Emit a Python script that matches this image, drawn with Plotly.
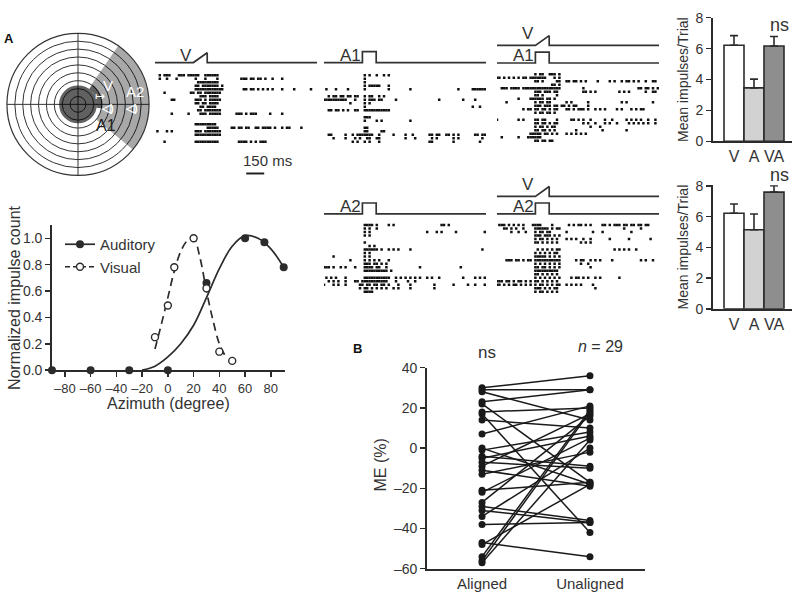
import plotly.graph_objects as go

W, H = 800, 603
def X(px): return px / W
def Y(py): return 1 - py / H

FONT = "Liberation Sans, Arial, sans-serif"
INK = "#2b2b2b"

# ---------------- data ----------------
aud_az = [-90, -60, -30, 0, 30, 60, 75, 90]
aud_resp = [0, 0, 0, 0, 0.66, 1.0, 0.97, 0.78]
vis_az = [-10, 0, 5, 20, 30, 40, 50]
vis_resp = [0.25, 0.49, 0.78, 1.0, 0.62, 0.14, 0.07]
aud_fit_az = [-20, -10, 0, 10, 20, 30, 40, 50, 60, 70, 80, 90]
aud_fit = [0, 0.03, 0.1, 0.2, 0.34, 0.55, 0.77, 0.94, 1.02, 1.0, 0.92, 0.78]
vis_fit_az = [-10, -5, 0, 5, 10, 15, 20, 25, 30, 35, 40, 45]
vis_fit = [0.16, 0.35, 0.55, 0.75, 0.9, 0.98, 1.0, 0.85, 0.6, 0.38, 0.2, 0.1]
tuning_ticks = [-80, -60, -40, -20, 0, 20, 40, 60, 80]

bar_cats = ["V", "A", "VA"]
bar_colors = ["#ffffff", "#d2d2d2", "#8e8e8e"]
bar1_mean = [6.22, 3.46, 6.17]
bar1_err = [0.62, 0.57, 0.62]
bar2_mean = [6.22, 5.15, 7.6]
bar2_err = [0.6, 1.02, 0.42]

me_aligned = [30, 29, 28, 23, 22, 18, 17, 14, 7, 0, -1, -4, -5, -7, -9, -11, -13,
              -21, -22, -27, -29, -31, -34, -38, -47, -48, -54, -56, -57]
me_unaligned = [36, 29, 14, 29, -17, 20, -42, 10, 21, -18, 8, -9, 6, -10, 17, -19, -2,
                -17, 5, 16, -36, -37, 0, -37, -54, -18, 19, 18, 4]
me_groups = ["Aligned", "Unaligned"]

BIN_MS = 20
STIM_MS = 115
T0, T1 = -320, 1030
raster_V = [
    [-14, -12, -11, -10, -6, -5, -4, -2, -1, 0, 1, 2, 5, 6, 7, 8, 9, 10],
    [-14, -11, -7, 1, 5, 10, 20, 21, 22, 24, 25, 27, 28, 30, 33, 37],
    [2, 3, 4, 5, 6, 7, 8, 9, 10],
    [1, 2, 4, 5, 6, 7, 8, 9, 10, 12],
    [1, 2, 3, 4, 5, 6, 7, 8, 9, 10, 11, 12, 21, 22, 24, 25, 27, 29, 31, 33, 37, 42, 49],
    [-12, -1, 0, 2, 3, 5, 6, 7, 8, 9, 10, 11],
    [3, 4, 5, 7, 8, 9, 10],
    [-9, -8, 1, 2, 3, 5, 7, 8, 9, 10, 11],
    [1, 2, 4, 5, 7, 8, 9, 10],
    [3, 4, 6, 7, 8, 9],
    [2, 3, 5, 6, 7, 8, 9, 10, 11],
    [-9, -2, 3, 4, 5, 7, 8, 9, 10, 11, 18, 19, 20, 22, 24, 25, 26, 32, 37],
    [],
    [],
    [1, 2, 3, 4, 5, 6, 7, 8, 9],
    [6, 7, 8, 9, 10, 16, 17, 19, 20, 22, 23, 26, 27, 29, 30, 31, 32, 34, 37, 39, 40, 45],
    [-15, -11, -9, 1, 2, 3, 5, 6, 7, 8, 9, 10, 11],
    [1, 2, 3, 4, 5, 6, 7, 8, 9, 10, 11],
    [],
    [-12, 1, 2, 3, 4, 5, 6, 7, 8, 9, 10, 19, 20, 21, 22, 24, 26, 28, 29, 30],
]
raster_A1 = [
    [1, 3, 6, 9, 11],
    [1],
    [1],
    [1, 3, 4, 5, 6, 7, 11],
    [-15, -11, -6, 1, 11, 20, 40, 46, 47, 48, 49, 50, 51],
    [],
    [-14, -12, -11, -9, -8, -6, -5, -3, -2, 1, 3, 4, 7, 9],
    [-16, -15, -14, -13, -12, -11, -10, -9, -8, -7, -3, 1, 3, 4, 5, 7, 8, 14, 32, 42, 47],
    [-5, 1, 3],
    [1, 46, 49],
    [-14, -13, -11, -10, -8, -6, -3, -2, 1, 2, 3, 4, 5, 6, 7, 8, 9, 10, 11],
    [],
    [1, 2, 3],
    [1, 6, 8, 20],
    [],
    [1, 2],
    [1, 2, 8, 9],
    [-14, -13, -7, -4, -2, -1, 0, 1, 2, 3, 4, 7, 13, 18, 21, 28, 29, 31, 32, 35, 36, 38, 40, 47, 48, 50, 51],
    [-12, -7, -3, -1, 2, 3, 6, 7, 18, 22, 29, 31, 38, 40, 50],
    [-4, -2, 1, 3, 7, 28, 29, 38, 49],
]
raster_VA1 = [
    [0, 2, 3, 6, 7, 8, 10],
    [-16, -15, -13, -11, -9, -7, -5, -4, -2, -1, 0, 1, 2, 3, 4, 8, 10],
    [0, 1, 3, 9, 10, 13, 14, 16, 17, 19, 21, 26, 31, 33, 36, 38, 39, 41, 43, 46, 49, 50],
    [7, 8, 10],
    [-14, -13, -12, -10, -9, -8, -7, -5, -4, -3, -2, -1, 0, 1, 2, 3, 4, 5, 6, 7, 8, 9, 10, 20, 43, 44, 46, 47, 49, 51],
    [0, 1, 2, 4, 5, 6, 8, 9, 20, 21, 23, 25, 35, 37, 39, 46, 49, 50],
    [0, 1, 3, 9],
    [-7, -2, -1, 0, 1, 2, 3, 5, 6, 8],
    [-12, 0, 2, 3, 5, 6, 13, 15, 22, 36, 38, 49],
    [0, 1, 2, 4, 5, 6, 8, 9, 11, 12, 14, 16, 17, 22],
    [-5, -3, -2, 0, 1, 3, 4, 6, 8, 9, 13, 14, 16, 18, 19, 20, 22, 25, 27, 29, 34, 36, 40, 42, 44, 45],
    [0, 2, 3, 5, 6, 8],
    [],
    [-16, -7, -5, 0, 1, 3, 4, 9, 15, 16, 18, 20, 23, 29, 32, 38, 40, 42, 44, 47, 50],
    [0, 1, 3, 4, 6, 8, 9, 20, 22, 25, 29, 31, 34, 39, 41, 43, 45, 47, 50],
    [0, 2, 3, 5, 7, 8, 23, 27],
    [0, 1, 3, 4, 6, 8, 17, 28, 38],
    [-2, -1, 0, 1, 2, 4, 5, 7, 9, 13, 15, 17, 19, 21],
    [-14, -7, -3, -2, -1, 0, 1, 2],
    [0, 1, 3, 4, 6, 7],
]
raster_A2 = [
    [1, 2, 3, 4, 6, 11, 13, 33, 34, 36],
    [1, 3, 6],
    [1, 3, 27, 31, 33, 39, 51],
    [1, 3],
    [],
    [1],
    [3, 5],
    [1, 2, 3, 4, 5, 6, 8, 11, 13, 15, 20, 50],
    [1, 3],
    [-12, 1, 3],
    [-5, 1, 3, 5, 7, 11],
    [1, 2, 3, 5, 6, 8, 10],
    [-16, -15, -14, -12, -9, -7, -3, 1, 2, 3, 4, 6, 7, 10, 24, 41],
    [1, 2, 3, 4, 5, 6, 7, 8, 9, 10, 12],
    [],
    [-15, -13, -11, -7, 1, 2, 3, 4, 5, 6, 7, 8, 9, 10, 11, 14, 16, 18, 20, 22, 24, 27, 29, 32, 42, 47, 49, 51],
    [-14, -12, -10, -7, -3, -2, 0, 1, 2, 3, 4, 5, 6, 7, 8, 9, 10, 14, 19, 22],
    [-16, -12, -10, -7, -1, 0, 2, 3, 5, 6, 8, 9, 11, 15, 20, 30, 38, 44, 47, 51],
    [-1, 1, 2, 4, 6, 8, 10, 13, 15, 20, 30],
    [1, 2, 3, 4],
]
raster_VA2 = [
    [-15, -14, -13, -11, -9, -7, -5, -1, 0, 1, 2, 7, 14, 16, 18, 19, 21, 23, 28, 29, 31, 33, 34, 35, 37, 38, 40, 41, 43, 44, 46, 47],
    [-13, -12, -10, -8, -5, 0, 1, 2, 3, 4, 5, 7, 9, 10, 37, 44],
    [-10, -7, -4, 0, 2, 3, 5, 6, 13, 24, 28, 40],
    [0, 1, 2, 4, 5, 6, 8, 10],
    [0, 2, 3, 5, 7, 9, 13, 15, 17, 20, 23, 31, 39, 48],
    [0, 1, 3, 5, 7, 9, 19, 21, 23],
    [],
    [1, 3, 5, 7, 9, 10, 33, 35, 37, 39, 42],
    [0, 2, 4, 6, 8, 9],
    [0, 1, 2, 3, 4, 6, 8, 10],
    [-12, -11, -10, -8, -7, -5, -3, -2, 0, 1, 2, 3, 4, 5, 6, 7, 8, 9, 10, 17, 19, 20, 23, 25, 27, 32, 44, 46, 49],
    [0, 2, 4, 6, 8, 10, 19, 22],
    [0, 1, 3, 4, 6, 8, 10, 23],
    [0, 1, 2, 3, 4, 5, 6, 7, 8, 9],
    [0, 1, 3, 5, 7, 9],
    [0, 2, 4, 6, 8, 10, 15, 17, 18, 20, 22, 25, 27, 35],
    [-16, -15, -14, -12, -11, -9, -7, -6, -4, -2, 0, 1, 3, 5, 7, 9],
    [-16, -15, -13, -11, -9, -8, -6, -4, -2, 0, 2, 3, 5, 7, 9, 10, 13, 15, 17, 19, 24],
    [0, 1, 2, 4, 6, 8, 9, 25],
    [0, 2, 3, 5, 7, 9],
]

fig = go.Figure()

# ---------------- polar diagram (A) ----------------
fig.add_trace(go.Barpolar(r=[6], base=[3], theta=[8], width=[95],
                          marker=dict(color="rgba(0,0,0,0.34)", line=dict(width=0)),
                          subplot="polar", hoverinfo="skip", showlegend=False))
fig.add_trace(go.Barpolar(r=[2.4], base=[0], theta=[0], width=[360],
                          marker=dict(color="rgba(0,0,0,0.62)", line=dict(width=0)),
                          subplot="polar", hoverinfo="skip", showlegend=False))
fig.add_trace(go.Barpolar(r=[0.7], base=[2.4], theta=[22], width=[64],
                          marker=dict(color="rgba(0,0,0,0.62)", line=dict(width=0)),
                          subplot="polar", hoverinfo="skip", showlegend=False))

# ---------------- rasters ----------------
def raster_xy(trials):
    xs, ys = [], []
    for k, row in enumerate(trials):
        for b in row:
            xs.append(b * BIN_MS)
            ys.append(k)
    return xs, ys

def ramp_xy(base, h):
    return [T0, 0, STIM_MS, STIM_MS, T1], [base, base, base - h, base, base]

def pulse_xy(base, h):
    return [T0, 0, 0, STIM_MS, STIM_MS, T1], [base, base, base - h, base - h, base, base]

rasters = [
    (raster_V, "x2", "y2", [("V", "ramp", -3.6)]),
    (raster_A1, "x3", "y3", [("A1", "pulse", -3.6)]),
    (raster_VA1, "x4", "y4", [("V", "ramp", -8.2), ("A1", "pulse", -3.2)]),
    (raster_A2, "x5", "y5", [("A2", "pulse", -3.2)]),
    (raster_VA2, "x6", "y6", [("V", "ramp", -8.2), ("A2", "pulse", -3.2)]),
]
stim_labels = []
for trials, xa, ya, stims in rasters:
    xs, ys = raster_xy(trials)
    fig.add_trace(go.Scatter(x=xs, y=ys, mode="markers", xaxis=xa, yaxis=ya,
                             marker=dict(symbol="square", size=2.5, color="#111111", line=dict(width=0)),
                             hoverinfo="skip", showlegend=False))
    for name, kind, base in stims:
        if kind == "ramp":
            sx, sy = ramp_xy(base, 2.8)
        else:
            sx, sy = pulse_xy(base, 3.1)
        fig.add_trace(go.Scatter(x=sx, y=sy, mode="lines", xaxis=xa, yaxis=ya,
                                 line=dict(color="#333333", width=1.7),
                                 hoverinfo="skip", showlegend=False))
        stacked = len(stims) > 1 and kind == "ramp"
        stim_labels.append(dict(x=0, y=base, xref=xa, yref=ya, text=name, showarrow=False,
                                xanchor="right", yanchor="bottom", xshift=1,
                                yshift=0 if stacked else -4,
                                font=dict(family=FONT, size=17, color="#333333")))

# ---------------- tuning curves ----------------
fig.add_trace(go.Scatter(x=aud_fit_az, y=aud_fit, mode="lines", xaxis="x", yaxis="y",
                         line=dict(color=INK, width=1.7, shape="spline"),
                         hoverinfo="skip", showlegend=False))
fig.add_trace(go.Scatter(x=vis_fit_az, y=vis_fit, mode="lines", xaxis="x", yaxis="y",
                         line=dict(color=INK, width=1.7, shape="spline", dash="8px,5px"),
                         hoverinfo="skip", showlegend=False))
fig.add_trace(go.Scatter(x=aud_az, y=aud_resp, mode="markers", xaxis="x", yaxis="y",
                         marker=dict(color=INK, size=8), cliponaxis=False, showlegend=False))
fig.add_trace(go.Scatter(x=vis_az, y=vis_resp, mode="markers", xaxis="x", yaxis="y",
                         marker=dict(color="white", size=7, line=dict(color=INK, width=1.4)),
                         cliponaxis=False, showlegend=False))
fig.add_trace(go.Scatter(x=[None], y=[None], mode="lines+markers", name="Auditory", xaxis="x", yaxis="y",
                         marker=dict(color=INK, size=8), line=dict(color=INK, width=1.7)))
fig.add_trace(go.Scatter(x=[None], y=[None], mode="lines+markers", name="Visual", xaxis="x", yaxis="y",
                         marker=dict(color="white", size=7, line=dict(color=INK, width=1.4)),
                         line=dict(color=INK, width=1.7, dash="5px,3px")))

# ---------------- bar charts ----------------
for mean, err, xa, ya in [(bar1_mean, bar1_err, "x7", "y7"), (bar2_mean, bar2_err, "x8", "y8")]:
    fig.add_trace(go.Bar(x=[0, 1, 2], y=mean, width=1, xaxis=xa, yaxis=ya,
                         marker=dict(color=bar_colors, line=dict(color=INK, width=1.6)),
                         error_y=dict(type="data", array=err, arrayminus=[0, 0, 0], symmetric=False,
                                      color=INK, thickness=1.6, width=4),
                         hoverinfo="skip", showlegend=False))

# ---------------- panel B ----------------
bx, by = [], []
for a, u in zip(me_aligned, me_unaligned):
    bx += [0, 1, None]
    by += [a, u, None]
fig.add_trace(go.Scatter(x=bx, y=by, mode="lines+markers", xaxis="x9", yaxis="y9",
                         line=dict(color="#1a1a1a", width=1.5),
                         marker=dict(color="#1a1a1a", size=7), cliponaxis=False,
                         hoverinfo="skip", showlegend=False))

# ---------------- layout ----------------
def hidden(domain, rng):
    return dict(domain=domain, range=rng, visible=False, fixedrange=True)

tick_font = dict(family=FONT, size=14, color="#333333")
axline = dict(showline=True, linecolor=INK, linewidth=1.8, ticks="outside", tickcolor=INK,
              tickwidth=1.5, ticklen=5, showgrid=False, zeroline=False, tickfont=tick_font)

RY = [20, -12]
cat_font = dict(family=FONT, size=16, color="#333333")
layout = dict(
    width=W, height=H, margin=dict(l=0, r=0, t=0, b=0),
    paper_bgcolor="white", plot_bgcolor="rgba(0,0,0,0)",
    font=dict(family=FONT, color="#333333"),
    showlegend=True,
    legend=dict(x=X(60), y=Y(226), xanchor="left", yanchor="top", bgcolor="rgba(0,0,0,0)",
                font=dict(family=FONT, size=15, color="#333333"), itemwidth=30, tracegroupgap=0),
    polar=dict(domain=dict(x=[X(5), X(151)], y=[Y(172), Y(26)]), bgcolor="white",
               radialaxis=dict(range=[0, 9], tickvals=[1, 2, 3, 4, 5, 6, 7, 8], showticklabels=False,
                               ticks="", showline=False, gridcolor="#333333", gridwidth=1),
               angularaxis=dict(tickvals=[0, 90, 180, 270], showticklabels=False, ticks="",
                                gridcolor="#333333", gridwidth=1, showline=True,
                                linecolor="#333333", linewidth=1.2)),
    xaxis=dict(domain=[X(52), X(285)], range=[-90, 91], tickvals=tuning_ticks, tickangle=0,
               ticktext=[("\u2013" + str(-t)) if t < 0 else str(t) for t in tuning_ticks],
               **{**axline, "tickfont": dict(family=FONT, size=13, color="#333333")}),
    yaxis=dict(domain=[Y(372), Y(223)], range=[0, 1.1], tickvals=[0, 0.2, 0.4, 0.6, 0.8, 1.0],
               tickformat=".1f", anchor="x", **axline),
    xaxis2=hidden([X(155), X(317)], [T0, T1]), yaxis2=hidden([Y(141), Y(25.8)], RY),
    xaxis3=hidden([X(324), X(486)], [T0, T1]), yaxis3=hidden([Y(141), Y(25.8)], RY),
    xaxis4=hidden([X(497), X(659)], [T0, T1]), yaxis4=hidden([Y(140), Y(24.8)], RY),
    xaxis5=hidden([X(324), X(486)], [T0, T1]), yaxis5=hidden([Y(295), Y(179.8)], RY),
    xaxis6=hidden([X(497), X(659)], [T0, T1]), yaxis6=hidden([Y(295), Y(179.8)], RY),
    xaxis7=dict(domain=[X(713), X(792)], range=[-1.05, 2.9], anchor="y7", tickvals=[0, 1, 2],
                ticktext=bar_cats, tickangle=0, **{**axline, "ticks": "", "tickfont": cat_font}),
    yaxis7=dict(domain=[Y(137), Y(10)], range=[0, 8], anchor="x7", tickvals=[0, 2, 4, 6, 8], **axline),
    xaxis8=dict(domain=[X(713), X(792)], range=[-1.05, 2.9], anchor="y8", tickvals=[0, 1, 2],
                ticktext=bar_cats, tickangle=0, **{**axline, "ticks": "", "tickfont": cat_font}),
    yaxis8=dict(domain=[Y(309), Y(182)], range=[0, 8.05], anchor="x8", tickvals=[0, 2, 4, 6, 8], **axline),
    xaxis9=dict(domain=[X(427), X(645)], range=[-0.51, 1.51], anchor="y9", tickvals=[0, 1],
                ticktext=me_groups, tickangle=0,
                **{**axline, "ticks": "", "tickfont": dict(family=FONT, size=15, color="#333333")}),
    yaxis9=dict(domain=[Y(576), Y(369.5)], range=[-60, 40], anchor="x9", tickvals=[-60, -40, -20, 0, 20, 40],
                ticktext=["\u201360", "\u201340", "\u201320", "0", "20", "40"], **axline),
)
fig.update_layout(**layout)

def ann(px, py, text, size=15, color="#333333", angle=0, bold=False, xanchor="center", yanchor="middle"):
    if bold:
        text = "<b>" + text + "</b>"
    return dict(x=X(px), y=Y(py), xref="paper", yref="paper", text=text, showarrow=False,
                textangle=angle, xanchor=xanchor, yanchor=yanchor,
                font=dict(family=FONT, size=size, color=color))

annotations = stim_labels + [
    ann(9, 31, "A", 13, "#111111", bold=True),
    ann(108, 80, "V", 15, "white"),
    ann(100, 90, "\u21a6", 12, "white"),
    ann(135, 86, "A2", 15, "white"),
    ann(107, 103, "\u25c1)", 11, "white", bold=True),
    ann(131, 103, "\u25c1)", 11, "white", bold=True),
    ann(106, 121, "A1", 16, "#222222"),
    ann(267, 157, "150 ms", 15),
    ann(683, 74, "Mean impulses/Trial", 14, angle=-90),
    ann(683, 246, "Mean impulses/Trial", 14, angle=-90),
    ann(779, 17, "ns", 18),
    ann(779, 172, "ns", 18),
    ann(14, 298, "Normalized impulse count", 16, angle=-90),
    ann(168, 406, "Azimuth (degree)", 16),
    ann(381, 470, "ME (%)", 16, angle=-90),
    ann(357, 350, "B", 13, "#111111", bold=True),
    ann(487, 354, "ns", 17),
    ann(600, 348, "<i>n</i> = 29", 16),
]
fig.update_layout(annotations=annotations)

fig.add_shape(type="line", xref="x2", yref="paper", x0=440, x1=590, y0=Y(170), y1=Y(170),
              line=dict(color="#222222", width=2))

fig.write_html("out.html", config={"displayModeBar": False, "staticPlot": True},
               post_script="document.body.style.margin='0';document.body.style.overflow='hidden';")
